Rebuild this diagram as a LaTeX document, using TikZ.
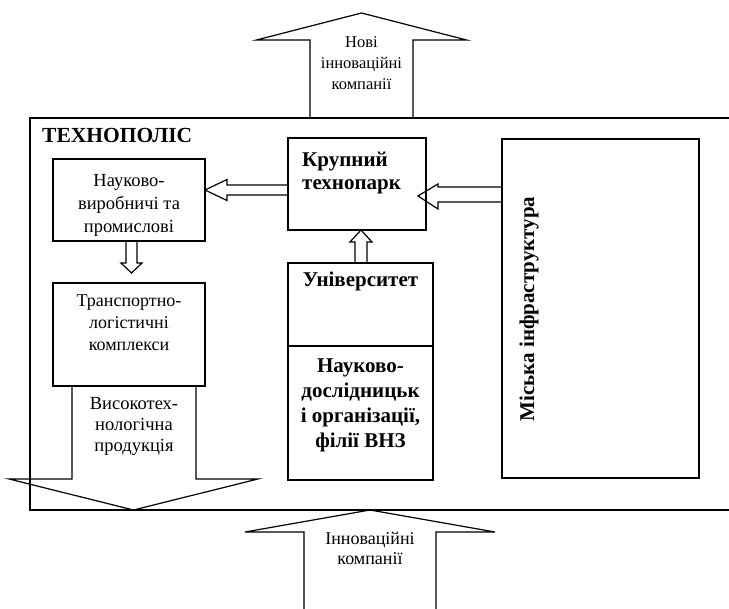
\documentclass[tikz,border=0pt]{standalone}
\usepackage{fontspec}
\setmainfont{Liberation Serif}
\usetikzlibrary{calc}
\newcommand{\txtc}[1]{\begin{tabular}[t]{@{}c@{}}#1\end{tabular}}
\newcommand{\txtl}[1]{\begin{tabular}[t]{@{}l@{}}#1\end{tabular}}
\tikzset{
  box/.style={draw, line width=1.4pt, rectangle, inner sep=0pt, outer sep=0pt},
  framebox/.style={rectangle, inner sep=0pt, outer sep=0pt},
  frameline/.style={line width=1.8pt},
  hollow/.style={line width=1.2pt, line join=miter},
  reg/.style={inner sep=0pt, anchor=base, font=\fontsize{18.5}{22}\selectfont},
  regsmall/.style={inner sep=0pt, anchor=base, font=\fontsize{16.5}{21}\selectfont},
  bld/.style={inner sep=0pt, anchor=base, font=\fontsize{21}{24}\selectfont\bfseries},
}
\begin{document}
\begin{tikzpicture}[x=1pt,y=-1pt]
\useasboundingbox (0,0) rectangle (729,609);
% frame (technopolis)
\node[framebox, minimum width=699pt, minimum height=392pt] (tp) at (379.5,314) {};
\draw[frameline] (tp.north east) -- (tp.north west) -- (tp.south west) -- (tp.south east);
\node[bld, anchor=base west, font=\fontsize{21.5}{24}\selectfont\bfseries] (tpt) at (42,143) {ТЕХНОПОЛІС};

% boxes
\node[box, minimum width=152pt, minimum height=82pt] (nv) at (129,200) {};
\node[box, minimum width=152pt, minimum height=103pt] (tl) at (129,334.5) {};
\node[box, minimum width=138pt, minimum height=92pt] (kt) at (357,184) {};
\node[box, minimum width=145pt, minimum height=83pt] (un) at (360.5,304.5) {};
\node[box, minimum width=145pt, minimum height=134pt] (nd) at (360.5,413) {};
\node[box, minimum width=197pt, minimum height=339pt] (mi) at (600.5,308.5) {};

% texts in boxes
\node[reg, font=\fontsize{18.5}{23}\selectfont] (nvt) at (129,187) {\txtc{Науково-\\виробничі та\\промислові}};
\node[reg, font=\fontsize{18}{22}\selectfont] (tlt) at (129,307) {\txtc{Транспортно-\\логістичні\\комплекси}};
\node[bld, anchor=base west, font=\fontsize{21}{23}\selectfont\bfseries] (ktt) at (302,167) {\txtl{Крупний\\технопарк}};
\node[bld] (unt) at (360.5,287) {Університет};
\node[bld, font=\fontsize{21}{25}\selectfont\bfseries] (ndt) at (360.5,373) {\txtc{Науково-\\дослідницьк\\і організації,\\філії ВНЗ}};
\node[bld, rotate=90] (mit) at (534,309) {Міська інфраструктура};

% hollow arrows between boxes
\draw[hollow] (kt.west |- 0,185) -- (227,185) -- (227,179.5) -- (nv.east |- 0,190)
  -- (227,200.5) -- (227,195) -- (kt.west |- 0,195);
\draw[hollow] (mi.west |- 0,187) -- (438,187) -- (438,184) -- ($(kt.east |- 0,196)+(-8,0)$)
  -- (438,209) -- (438,202) -- (mi.west |- 0,202);
\draw[hollow] (355,0 |- un.north) -- (355,242) -- (350,242) -- (361,0 |- kt.south)
  -- (372,242) -- (367,242) -- (367,0 |- un.north);
\draw[hollow] (126,0 |- nv.south) -- (126,263) -- (121,263) -- (131.5,273)
  -- (142,263) -- (137,263) -- (137,0 |- nv.south);

% big arrows
\draw[hollow] (310,0 |- tp.north) -- (310,40) -- (256.5,40) -- (361.5,13)
  -- (466.5,40) -- (413,40) -- (413,0 |- tp.north);
\node[regsmall] (nic) at (361.5,48) {\txtc{Нові\\інноваційні\\компанії}};

\draw[hollow] (72,0 |- tl.south) -- (72,479) -- (9,479) -- (133.5,0 |- tp.south)
  -- (258,479) -- (196,479) -- (196,0 |- tl.south);
\node[reg, font=\fontsize{18.5}{21}\selectfont] (vtp) at (134,410) {\txtc{Високотех-\\нологічна\\продукція}};

\coordinate (bl) at (304,609);
\coordinate (br) at (436,609);
\draw[hollow] (bl) -- (304,532) -- (245,532) -- (370,0 |- tp.south)
  -- (495,532) -- (436,532) -- (br);
\node[reg, font=\fontsize{18}{20}\selectfont] (ic) at (370,545) {\txtc{Інноваційні\\компанії}};
\end{tikzpicture}
\end{document}
